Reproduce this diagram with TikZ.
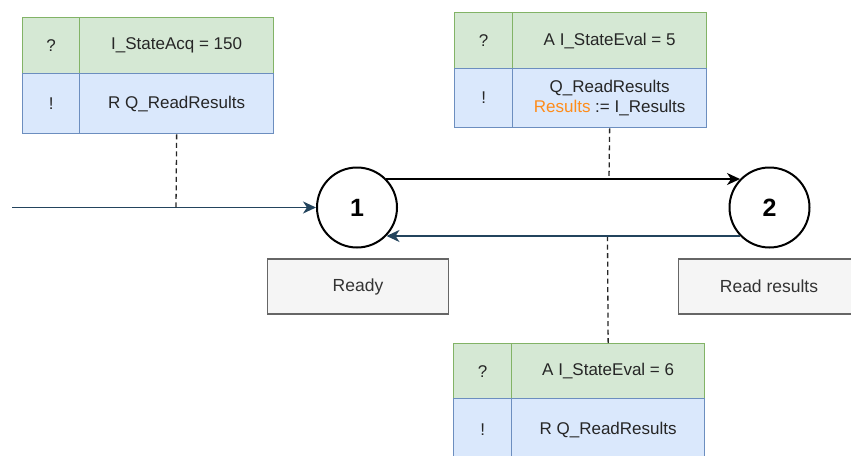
\documentclass[tikz,border=0pt]{standalone}
\usepackage{fontspec}
\setmainfont{Liberation Sans}
\usetikzlibrary{arrows.meta}
\definecolor{gfill}{HTML}{D5E8D4}
\definecolor{gline}{HTML}{82B366}
\definecolor{bfill}{HTML}{DAE8FC}
\definecolor{bline}{HTML}{6C8EBF}
\definecolor{lfill}{HTML}{F5F5F5}
\definecolor{lline}{HTML}{666666}
\definecolor{ltext}{HTML}{333333}
\definecolor{navy}{HTML}{23445D}
\definecolor{hilite}{HTML}{FF8C1A}
\tikzset{
  cell/.style={draw, line width=1.3pt, inner sep=0pt, anchor=north west,
    font=\fontsize{17}{21}\selectfont, text=black!85, align=center},
  gcell/.style={cell, fill=gfill, draw=gline},
  bcell/.style={cell, fill=bfill, draw=bline},
  statecirc/.style={circle, draw=black, line width=2pt, minimum size=80pt,
    inner sep=0pt, font=\fontsize{25}{30}\selectfont\bfseries},
  labelbox/.style={draw=lline, fill=lfill, line width=1.3pt, text=ltext,
    minimum width=181pt, minimum height=55pt, inner sep=0pt,
    font=\fontsize{17.5}{21}\selectfont},
  tip/.style={-{Stealth[length=13pt,width=12pt,inset=4pt]}},
  trans/.style={tip, line width=1.8pt},
  guide/.style={line width=1.3pt, dash pattern=on 5pt off 3.5pt, draw=black!85}
}
\begin{document}
\begin{tikzpicture}[x=1pt,y=-1pt]
\clip (0,0) rectangle (851,455);
\fill[white] (0,0) rectangle (851,455);

% states
\node[statecirc] (c1) at (357,207.5) {1};
\node[statecirc] (c2) at (769.5,207.5) {2};

% state names
\node[labelbox] (ready) at (358,286.5) {Ready};
\node[labelbox] (readres) at (769,286.5) {Read results};

% guard/action table on the entry transition
\node[gcell, minimum width=57pt, minimum height=56pt] (a1l) at (22,17) {?};
\node[gcell, minimum width=194pt, minimum height=56pt] (a1r) at (79,17) {I\_StateAcq = 150};
\node[bcell, minimum width=57pt, minimum height=60pt] (a2l) at (22,73) {!};
\node[bcell, minimum width=194pt, minimum height=60pt] (a2r) at (79,73) {R Q\_ReadResults};

% guard/action table on 1 -> 2
\node[gcell, minimum width=58pt, minimum height=56pt] (b1l) at (454,12) {?};
\node[gcell, minimum width=194pt, minimum height=56pt] (b1r) at (512,12) {A I\_StateEval = 5};
\node[bcell, minimum width=58pt, minimum height=59pt] (b2l) at (454,68) {!};
\node[bcell, minimum width=194pt, minimum height=59pt] (b2r) at (512,68)
  {Q\_ReadResults\\[-1pt]\textcolor{hilite}{Results} := I\_Results};

% guard/action table on 2 -> 1
\node[gcell, minimum width=58pt, minimum height=55pt] (d1l) at (453,343) {?};
\node[gcell, minimum width=193pt, minimum height=55pt] (d1r) at (511,343) {A I\_StateEval = 6};
\node[bcell, minimum width=58pt, minimum height=62pt] (d2l) at (453,398) {!};
\node[bcell, minimum width=193pt, minimum height=62pt] (d2r) at (511,398) {R Q\_ReadResults};

% transitions
\coordinate (start) at (12,207.5);
\draw[trans, draw=navy] (start) -- (c1.west);
\draw[trans, draw=black] (c1.44) -- (c2.136);
\draw[trans, draw=navy] (c2.-136) -- (c1.-44);

% points where the tables attach
\coordinate (j1) at (176,207.5);
\coordinate (j2) at (609,179);
\coordinate (j3) at (607.5,237);
\draw[guide] (a2r.south) -- (j1);
\draw[guide] (b2r.south) -- (j2);
\draw[guide] (d1r.north) -- (j3);
\end{tikzpicture}
\end{document}
